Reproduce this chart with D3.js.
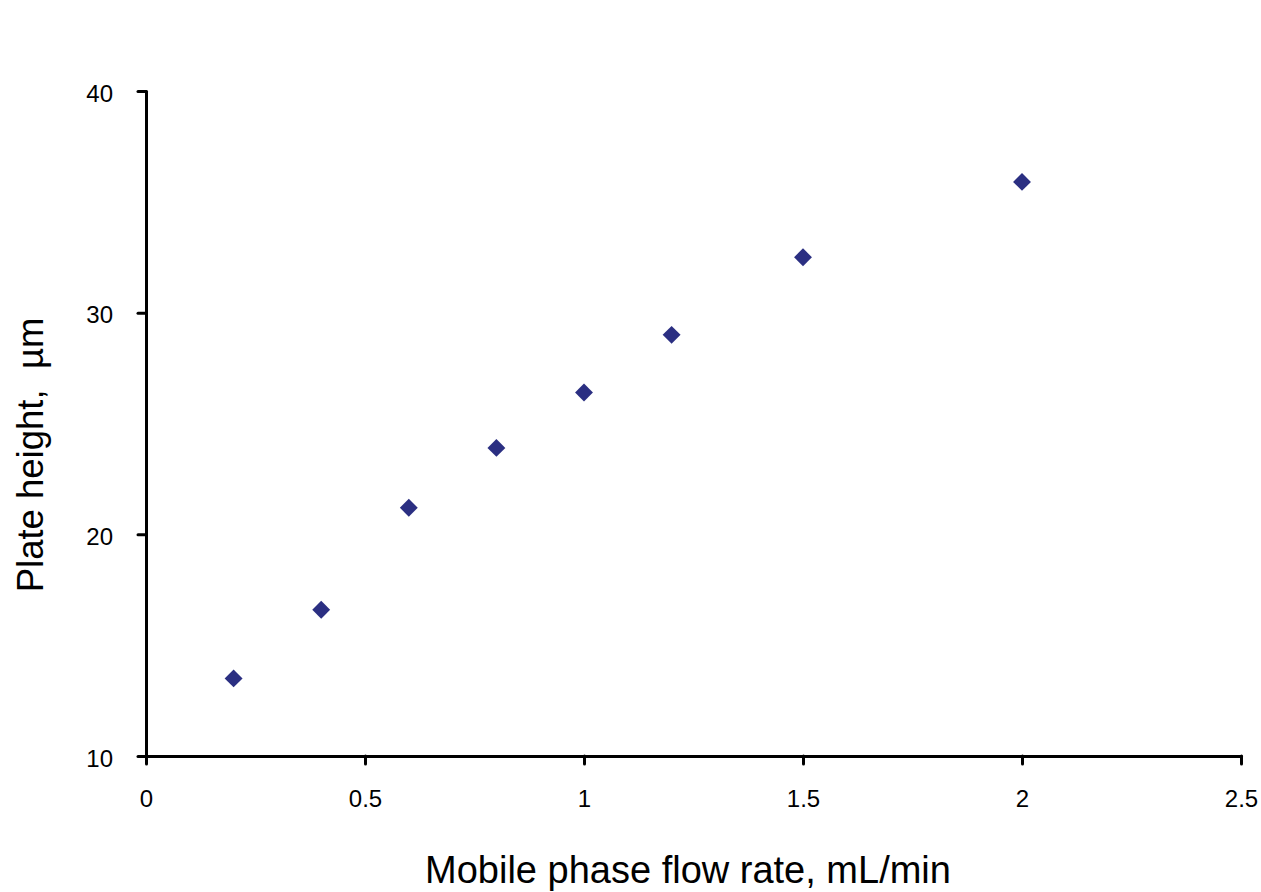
<!DOCTYPE html>
<html>
<head>
<meta charset="utf-8">
<script src="https://cdn.jsdelivr.net/npm/d3@7"></script>
<style>
  html, body { margin: 0; padding: 0; background: #fff; }
  svg { display: block; font-family: "Liberation Sans", Arial, sans-serif; }
</style>
</head>
<body>
<svg id="chart" width="1261" height="892"></svg>
<script>
// Flow rate (mL/min) and measured plate height (µm)
const flowRate = [0.2, 0.4, 0.6, 0.8, 1.0, 1.2, 1.5, 2.0];
const plateHeight = [13.5, 16.6, 21.2, 23.9, 26.4, 29.0, 32.5, 35.9];
const xTicks = [0, 0.5, 1, 1.5, 2, 2.5];
const yTicks = [10, 20, 30, 40];

const svg = d3.select("#chart");
const plot = { left: 146, right: 1241, top: 91, bottom: 756 };

const x = d3.scaleLinear().domain([0, 2.5]).range([plot.left, plot.right]);
const y = d3.scaleLinear().domain([10, 40]).range([plot.bottom, plot.top]);

function styleAxis(g) {
  g.attr("font-size", 24).attr("font-family", "Liberation Sans, Arial, sans-serif");
  g.select(".domain").attr("stroke", "#000").attr("stroke-width", 3).attr("stroke-linecap", "round");
  g.selectAll(".tick line").attr("stroke", "#000").attr("stroke-width", 3).attr("stroke-linecap", "round");
  g.selectAll(".tick text").attr("fill", "#000");
}

// Y axis
svg.append("g")
  .attr("transform", `translate(${plot.left},0)`)
  .call(d3.axisLeft(y).tickValues(yTicks).tickSize(8).tickSizeOuter(0).tickPadding(25).tickFormat(d3.format("d")))
  .call(styleAxis)
  .call(g => g.selectAll(".tick text").attr("dy", "0.42em"));

// X axis
svg.append("g")
  .attr("transform", `translate(0,${plot.bottom})`)
  .call(d3.axisBottom(x).tickValues(xTicks).tickSize(8).tickSizeOuter(0).tickPadding(26).tickFormat(d3.format("")))
  .call(styleAxis);

// Data markers: diamonds
const diamond = d3.symbol().type(d3.symbolSquare).size(160);
svg.append("g").selectAll("path")
  .data(flowRate.map((f, i) => [f, plateHeight[i]]))
  .join("path")
  .attr("d", diamond)
  .attr("transform", d => `translate(${x(d[0])},${y(d[1])}) rotate(45)`)
  .attr("fill", "#2B2F82");

// Axis titles
svg.append("text")
  .attr("x", 688)
  .attr("y", 883)
  .attr("text-anchor", "middle")
  .attr("font-size", 38)
  .attr("fill", "#000")
  .text("Mobile phase flow rate, mL/min");

svg.append("text")
  .attr("transform", `translate(43,455) rotate(-90)`)
  .attr("text-anchor", "middle")
  .attr("font-size", 36.5)
  .attr("fill", "#000")
  .style("white-space", "pre")
  .text("Plate height,  µm");
</script>
</body>
</html>
